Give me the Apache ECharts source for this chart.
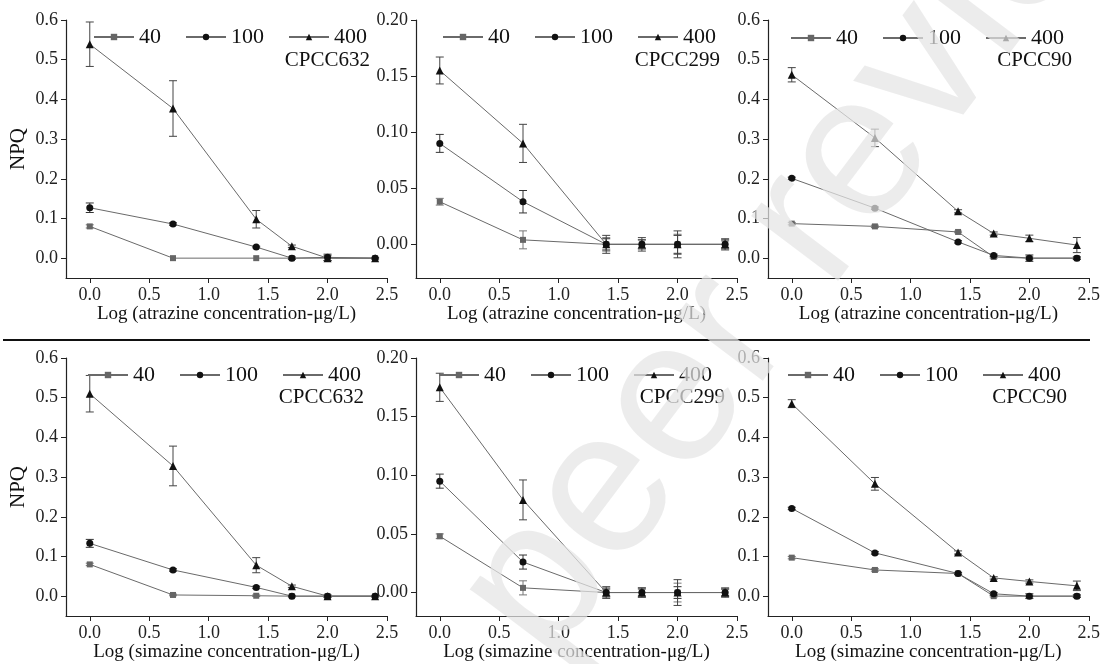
<!DOCTYPE html>
<html>
<head>
<meta charset="utf-8">
<title>NPQ</title>
<script src="https://cdn.jsdelivr.net/npm/echarts@6/dist/echarts.min.js"></script>
<style>
  html, body { margin: 0; padding: 0; background: #fff; }
  #chart { width: 1103px; height: 664px; }
</style>
</head>
<body>
<div id="chart"></div>
<script>
// x positions: log of concentration
const xVals = [0, 0.7, 1.4, 1.7, 2.0, 2.4];
const concNames = ['40', '100', '400'];
const xTicks = [0, 0.5, 1.0, 1.5, 2.0, 2.5];
const npqTicks = [0, 0.1, 0.2, 0.3, 0.4, 0.5, 0.6];
const npqTicksSmall = [0, 0.05, 0.10, 0.15, 0.20];

// atrazine, CPCC632
const atr632_40 = [0.080, 0, 0, 0, 0, 0];
const atr632_40Err = [0.004, 0, 0, 0, 0, 0];
const atr632_100 = [0.127, 0.086, 0.028, 0, 0.002, 0];
const atr632_100Err = [0.012, 0.003, 0.002, 0.003, 0.008, 0.002];
const atr632_400 = [0.539, 0.377, 0.098, 0.030, 0, 0];
const atr632_400Err = [0.056, 0.070, 0.022, 0.003, 0.006, 0];

// atrazine, CPCC299
const atr299_40 = [0.038, 0.004, 0, 0, 0, 0];
const atr299_40Err = [0.003, 0.008, 0.006, 0.004, 0.009, 0.003];
const atr299_100 = [0.090, 0.038, 0, 0, 0, 0];
const atr299_100Err = [0.008, 0.010, 0.005, 0.004, 0.008, 0.004];
const atr299_400 = [0.155, 0.090, 0, 0, 0, 0];
const atr299_400Err = [0.012, 0.017, 0.008, 0.006, 0.012, 0.005];

// atrazine, CPCC90
const atr90_40 = [0.087, 0.080, 0.066, 0.003, 0, 0];
const atr90_40Err = [0.003, 0.003, 0.002, 0.003, 0.003, 0.003];
const atr90_100 = [0.201, 0.126, 0.041, 0.007, 0, 0];
const atr90_100Err = [0.003, 0.003, 0.003, 0.003, 0.008, 0.003];
const atr90_400 = [0.462, 0.303, 0.118, 0.062, 0.050, 0.033];
const atr90_400Err = [0.018, 0.022, 0.004, 0.004, 0.008, 0.019];

// simazine, CPCC632
const sim632_40 = [0.080, 0.003, 0.001, 0, 0, 0];
const sim632_40Err = [0.003, 0.002, 0.002, 0, 0, 0];
const sim632_100 = [0.133, 0.066, 0.022, 0, 0, 0];
const sim632_100Err = [0.010, 0.003, 0.003, 0.002, 0.003, 0.002];
const sim632_400 = [0.510, 0.328, 0.078, 0.025, 0, 0];
const sim632_400Err = [0.046, 0.050, 0.019, 0.003, 0.002, 0];

// simazine, CPCC299
const sim299_40 = [0.048, 0.004, 0, 0, 0, 0];
const sim299_40Err = [0.002, 0.006, 0.004, 0.004, 0.008, 0.003];
const sim299_100 = [0.095, 0.026, 0, 0, 0, 0];
const sim299_100Err = [0.006, 0.006, 0.003, 0.003, 0.005, 0.003];
const sim299_400 = [0.175, 0.079, 0, 0, 0, 0];
const sim299_400Err = [0.012, 0.017, 0.005, 0.004, 0.011, 0.004];

// simazine, CPCC90
const sim90_40 = [0.097, 0.066, 0.057, 0, 0, 0];
const sim90_40Err = [0.003, 0.003, 0.002, 0.002, 0.002, 0.003];
const sim90_100 = [0.221, 0.109, 0.057, 0.006, 0, 0];
const sim90_100Err = [0.003, 0.003, 0.003, 0.003, 0.006, 0.003];
const sim90_400 = [0.485, 0.283, 0.110, 0.046, 0.037, 0.026];
const sim90_400Err = [0.010, 0.016, 0.004, 0.003, 0.004, 0.012];

const SERIF = '"Liberation Serif", "Times New Roman", serif';
const ATR = 'Log (atrazine concentration-\u03bcg/L)';
const SIM = 'Log (simazine concentration-\u03bcg/L)';

const panels = [
  { left: 66, top: 20, ymin: -0.05, yTicks: npqTicks, dec: 1, xName: ATR, yName: 'NPQ', strain: 'CPCC632', sx: 370, sy: 60, lx: 88, ly: 21,
    values: [atr632_40, atr632_100, atr632_400], errs: [atr632_40Err, atr632_100Err, atr632_400Err] },
  { left: 416, top: 20, ymin: -0.03, yTicks: npqTicksSmall, dec: 2, xName: ATR, yName: '', strain: 'CPCC299', sx: 720, sy: 60, lx: 437, ly: 21,
    values: [atr299_40, atr299_100, atr299_400], errs: [atr299_40Err, atr299_100Err, atr299_400Err] },
  { left: 768, top: 20, ymin: -0.05, yTicks: npqTicks, dec: 1, xName: ATR, yName: '', strain: 'CPCC90', sx: 1072, sy: 60, lx: 785, ly: 22,
    values: [atr90_40, atr90_100, atr90_400], errs: [atr90_40Err, atr90_100Err, atr90_400Err] },
  { left: 66, top: 358, ymin: -0.05, yTicks: npqTicks, dec: 1, xName: SIM, yName: 'NPQ', strain: 'CPCC632', sx: 364, sy: 397, lx: 82, ly: 359,
    values: [sim632_40, sim632_100, sim632_400], errs: [sim632_40Err, sim632_100Err, sim632_400Err] },
  { left: 416, top: 358, ymin: -0.02, yTicks: npqTicksSmall, dec: 2, xName: SIM, yName: '', strain: 'CPCC299', sx: 725, sy: 397, lx: 433, ly: 359,
    values: [sim299_40, sim299_100, sim299_400], errs: [sim299_40Err, sim299_100Err, sim299_400Err] },
  { left: 768, top: 358, ymin: -0.05, yTicks: npqTicks, dec: 1, xName: SIM, yName: '', strain: 'CPCC90', sx: 1067, sy: 397, lx: 782, ly: 359,
    values: [sim90_40, sim90_100, sim90_400], errs: [sim90_40Err, sim90_100Err, sim90_400Err] }
];

const markStyle = [
  { symbol: 'rect', size: 6, color: '#666', bar: '#777' },
  { symbol: 'circle', size: 7, color: '#111', bar: '#333' },
  { symbol: 'triangle', size: 8, color: '#111', bar: '#444' }
];

function renderErrorBar(params, api) {
  const x = api.value(0), y = api.value(1), e = api.value(2);
  if (!e) return;
  const top = api.coord([x, y + e]);
  const bot = api.coord([x, y - e]);
  const hw = 4;
  const style = { stroke: api.visual('color'), lineWidth: 1 };
  return {
    type: 'group',
    children: [
      { type: 'line', shape: { x1: top[0], y1: top[1], x2: bot[0], y2: bot[1] }, style: style },
      { type: 'line', shape: { x1: top[0] - hw, y1: top[1], x2: top[0] + hw, y2: top[1] }, style: style },
      { type: 'line', shape: { x1: bot[0] - hw, y1: bot[1], x2: bot[0] + hw, y2: bot[1] }, style: style }
    ]
  };
}

const grid = [], xAxis = [], yAxis = [], series = [], legend = [], graphic = [];

panels.forEach((p, i) => {
  grid.push({ left: p.left, top: p.top, width: 321, height: 258 });
  xAxis.push({
    type: 'value', gridIndex: i, min: -0.2, max: 2.5,
    name: p.xName, nameLocation: 'middle', nameGap: 26,
    nameTextStyle: { fontFamily: SERIF, fontSize: 19, color: '#111' },
    axisLine: { onZero: false, lineStyle: { color: '#222', width: 1.2 } },
    axisTick: { show: true, length: 5, customValues: xTicks, lineStyle: { color: '#222' } },
    axisLabel: { customValues: xTicks, margin: 8, fontFamily: SERIF, fontSize: 18, color: '#222',
      formatter: v => v.toFixed(1) },
    splitLine: { show: false }
  });
  yAxis.push({
    type: 'value', gridIndex: i, min: p.ymin, max: p.yTicks[p.yTicks.length - 1],
    name: p.yName, nameLocation: 'middle', nameGap: 37, nameRotate: 90,
    nameTextStyle: { fontFamily: SERIF, fontSize: 21, color: '#111' },
    axisLine: { show: true, onZero: false, lineStyle: { color: '#222', width: 1.2 } },
    axisTick: { show: true, length: 5, customValues: p.yTicks, lineStyle: { color: '#222' } },
    axisLabel: { customValues: p.yTicks, margin: 8, fontFamily: SERIF, fontSize: 18, color: '#222',
      formatter: v => v.toFixed(p.dec) },
    splitLine: { show: false }
  });

  concNames.forEach((name, k) => {
    const m = markStyle[k];
    series.push({
      type: 'custom', xAxisIndex: i, yAxisIndex: i, z: 1,
      renderItem: renderErrorBar,
      itemStyle: { color: m.bar },
      data: xVals.map((x, j) => [x, p.values[k][j], p.errs[k][j]]),
      silent: true
    });
    series.push({
      name: name, type: 'line', xAxisIndex: i, yAxisIndex: i, z: 2,
      symbol: m.symbol, symbolSize: m.size,
      itemStyle: { color: m.color },
      lineStyle: { color: '#6a6a6a', width: 1 },
      data: xVals.map((x, j) => [x, p.values[k][j]])
    });
  });

  legend.push({
    left: p.lx, top: p.ly, itemWidth: 40, itemHeight: 8, itemGap: 24,
    textStyle: { fontFamily: SERIF, fontSize: 22, color: '#111' },
    data: concNames
  });

  graphic.push({
    type: 'text', x: p.sx, y: p.sy,
    style: { text: p.strain, font: '21px ' + SERIF, fill: '#111', textAlign: 'right', textVerticalAlign: 'middle' }
  });
});

// divider between the atrazine and simazine rows
graphic.push({
  type: 'line', shape: { x1: 3, y1: 340, x2: 1090, y2: 340 },
  style: { stroke: '#111', lineWidth: 2 }
});

// "peer review" watermark
graphic.push({
  type: 'text', x: 822, y: 208, rotation: 53 * Math.PI / 180, z: 100, silent: true,
  style: { text: 'peer review', font: '205px "Liberation Sans", Arial, sans-serif',
    fill: 'rgba(228,228,228,0.72)', textAlign: 'center', textVerticalAlign: 'middle' }
});

const chart = echarts.init(document.getElementById('chart'));
chart.setOption({
  animation: false,
  backgroundColor: '#fff',
  grid: grid,
  xAxis: xAxis,
  yAxis: yAxis,
  legend: legend,
  graphic: graphic,
  series: series
});
</script>
</body>
</html>
